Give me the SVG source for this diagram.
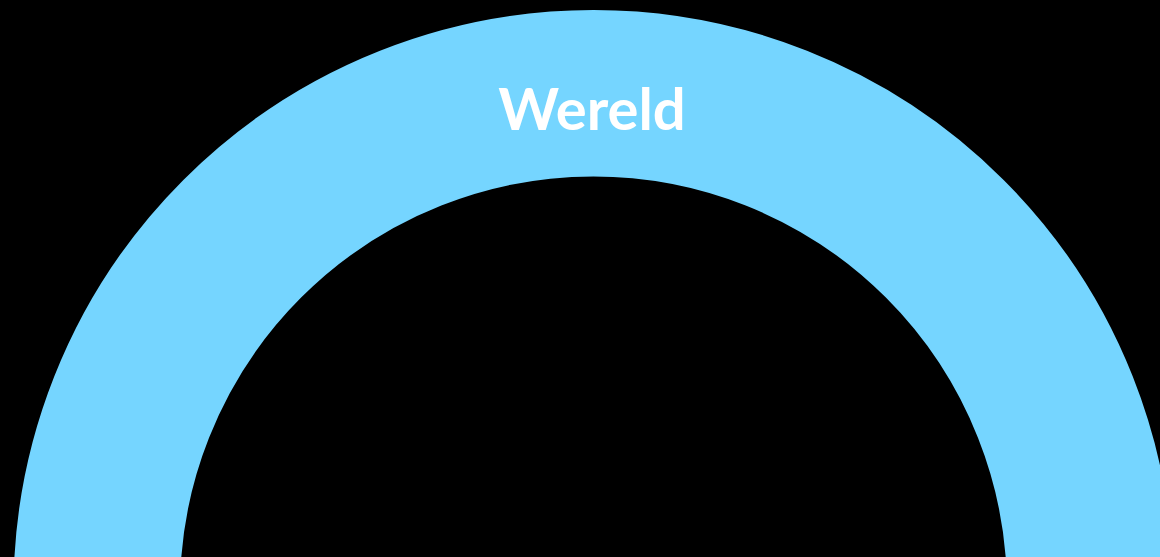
<svg xmlns="http://www.w3.org/2000/svg" width="1160" height="557" viewBox="0 0 1160 557">
<style>
.ring{fill:none;stroke:#75D5FF;stroke-width:166.5}
.lbl{font-family:Lato,"Open Sans",sans-serif;font-weight:bold;fill:#ffffff;font-size:58px;text-anchor:middle}
</style>
<rect width="1160" height="557" fill="#000000"/>
<g id="wereld">
<circle class="ring" cx="593.5" cy="590" r="496.75"/>
<text class="lbl" x="592" y="130">Wereld</text>
</g>
</svg>
